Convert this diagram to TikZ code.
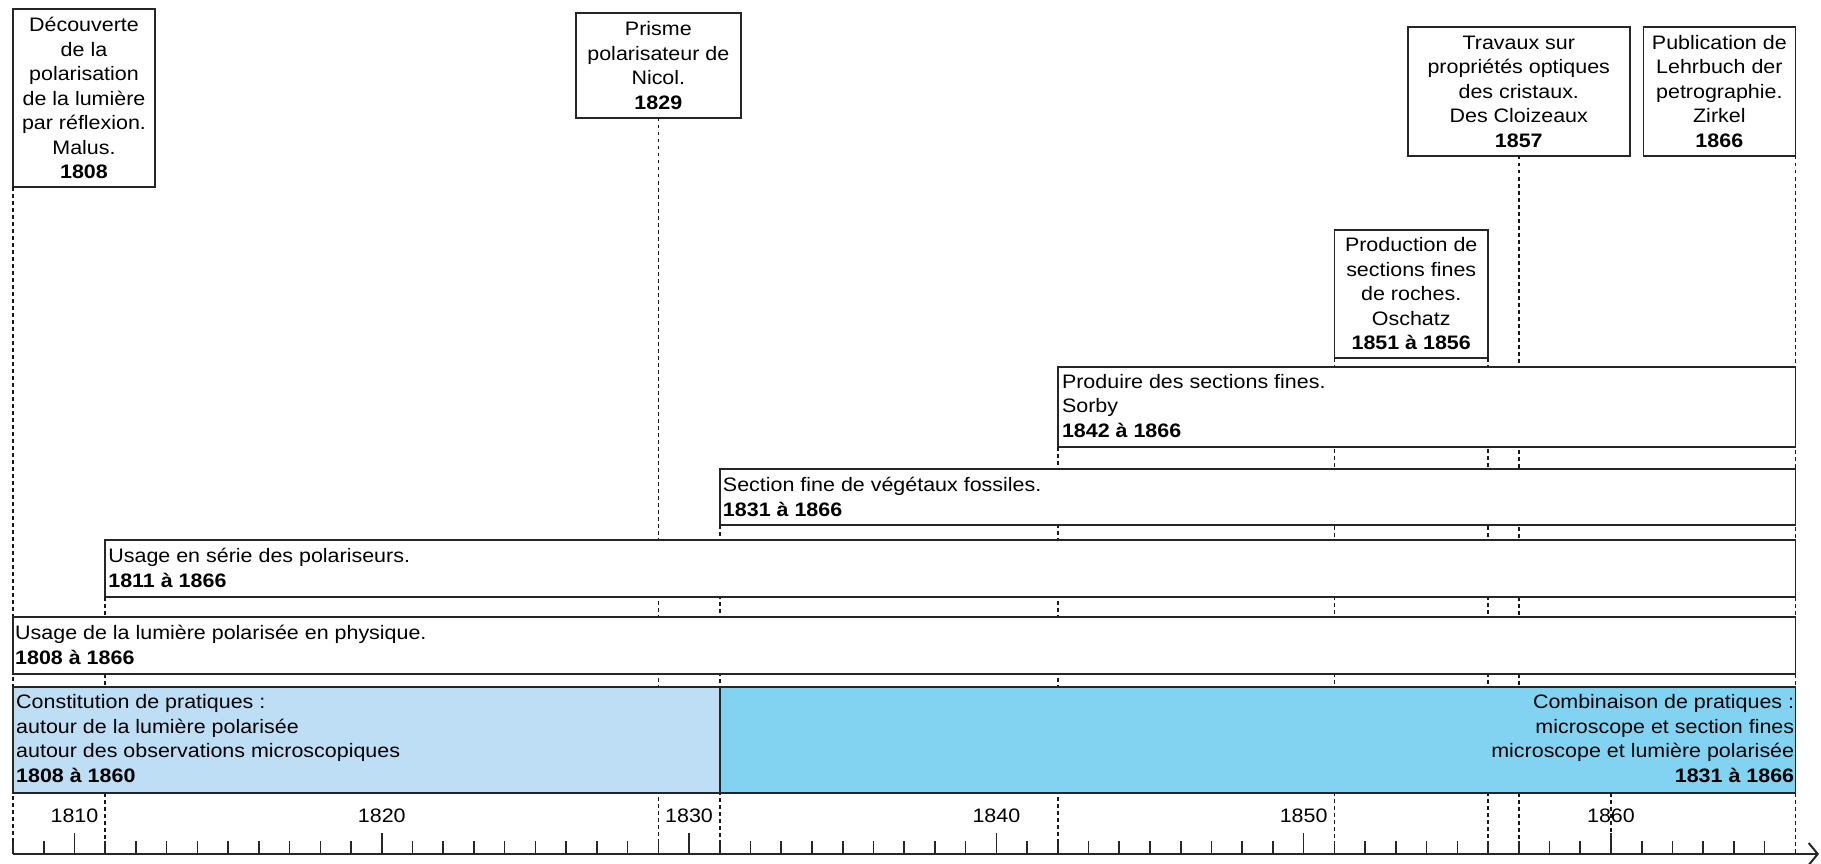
\documentclass[tikz,border=0pt]{standalone}
\usepackage{fontspec}
\setmainfont{Liberation Sans}[FakeStretch=1.1]
\usetikzlibrary{arrows.meta,positioning}
\definecolor{paleblue}{RGB}{189,222,245}
\definecolor{skyblue}{RGB}{130,211,241}
\tikzset{
  declare function={yr(\a)=13+(\a-1808)*30.73;},
  event/.style={draw=black!85,line width=1.6pt,fill=white,align=center,inner sep=0pt,outer sep=0pt},
  bar/.style={draw=black!85,line width=1.6pt,fill=white,inner sep=0pt,outer sep=0pt,anchor=north west},
  bartxt/.style={align=left,inner sep=0pt,anchor=base west},
  guide/.style={line width=1.6pt,dash pattern=on 3.5pt off 3.5pt,black!90},
  tick/.style={line width=1.6pt,black!85}
}
\begin{document}
\begin{tikzpicture}[x=1pt,y=-1pt,font=\fontsize{19.5}{24.5}\selectfont]
\useasboundingbox (0,0) rectangle (1821,864);
\coordinate (axis) at (0,854);
\node[event,minimum width=142,minimum height=178] (malus) at ({yr(1808)+71},98) {Découverte\\de la\\polarisation\\de la lumière\\par réflexion.\\Malus.\\\textbf{1808}};
\node[event,minimum width=165,minimum height=105] (nicol) at ({yr(1829)},65.5) {Prisme\\polarisateur de\\Nicol.\\\textbf{1829}};
\node[event,minimum width=222,minimum height=129] (cloizeaux) at ({yr(1857)},91.5) {Travaux sur\\propriétés optiques\\des cristaux.\\Des Cloizeaux\\\textbf{1857}};
\node[event,minimum width=152,minimum height=129,anchor=north east] (zirkel) at ({yr(1866)},27) {Publication de\\Lehrbuch der\\petrographie.\\Zirkel\\\textbf{1866}};
\node[event,minimum width={yr(1856)-yr(1851)},minimum height=128,anchor=north west] (oschatz) at ({yr(1851)},230) {Production de\\sections fines\\de roches.\\Oschatz\\\textbf{1851 à 1856}};
\draw[guide] (malus.south west) -- (malus.south west |- axis);
\draw[guide] (nicol.south) -- (nicol.south |- axis);
\draw[guide] (cloizeaux.south) -- (cloizeaux.south |- axis);
\draw[guide] (zirkel.south east) -- (zirkel.south east |- axis);
\draw[guide] (oschatz.south west) -- (oschatz.south west |- axis);
\draw[guide] (oschatz.south east) -- (oschatz.south east |- axis);
\node[bar,minimum width={yr(1866)-yr(1842)},minimum height=80] (sorby) at ({yr(1842)},367) {};
\node[bartxt] (sorbytxt) at ([xshift=4pt,yshift=-70pt]sorby.north west) {Produire des sections fines.\\Sorby\\\textbf{1842 à 1866}};
\draw[guide] (sorby.south west) -- (sorby.south west |- axis);
\node[bar,minimum width={yr(1866)-yr(1831)},minimum height=56] (vegetaux) at ({yr(1831)},469) {};
\node[bartxt] (vegetauxtxt) at ([xshift=3pt,yshift=-47pt]vegetaux.north west) {Section fine de végétaux fossiles.\\\textbf{1831 à 1866}};
\draw[guide] (vegetaux.south west) -- (vegetaux.south west |- axis);
\node[bar,minimum width={yr(1866)-yr(1811)},minimum height=57] (serie) at ({yr(1811)},540) {};
\node[bartxt] (serietxt) at ([xshift=3pt,yshift=-47pt]serie.north west) {Usage en série des polariseurs.\\\textbf{1811 à 1866}};
\draw[guide] (serie.south west) -- (serie.south west |- axis);
\node[bar,minimum width={yr(1866)-yr(1808)},minimum height=57] (physique) at ({yr(1808)},617) {};
\node[bartxt] (physiquetxt) at ([xshift=2pt,yshift=-47pt]physique.north west) {Usage de la lumière polarisée en physique.\\\textbf{1808 à 1866}};
\node[bar,fill=paleblue,minimum width={yr(1831)-yr(1808)},minimum height=106] (constitution) at ({yr(1808)},687) {};
\node[bar,fill=skyblue,minimum width={yr(1866)-yr(1831)},minimum height=106] (combinaison) at ({yr(1831)},687) {};
\node[bartxt] (constitutiontxt) at ([xshift=3pt,yshift=-95pt]constitution.north west) {Constitution de pratiques :\\autour de la lumière polarisée\\autour des observations microscopiques\\\textbf{1808 à 1860}};
\node[bartxt,align=right,anchor=base east] (combinaisontxt) at ([xshift=-1pt,yshift=-95pt]combinaison.north east) {Combinaison de pratiques :\\microscope et section fines\\microscope et lumière polarisée\\\textbf{1831 à 1866}};
\draw[guide] ({yr(1860)},793) -- ({yr(1860)},854);
\foreach \t in {1808,...,1865}
  \draw[tick] ({yr(\t)},841) -- ({yr(\t)},854);
\foreach \t in {1810,1820,...,1860}{
  \draw[tick] ({yr(\t)},833) -- ({yr(\t)},841);
  \node[anchor=base,inner sep=0pt] (y\t) at ({yr(\t)},822) {\t};
}
\draw[line width=2pt,black!85,-{Straight Barb[length=9pt,width=22pt]}] (malus.south west |- axis) -- (1819,854);
\end{tikzpicture}
\end{document}
